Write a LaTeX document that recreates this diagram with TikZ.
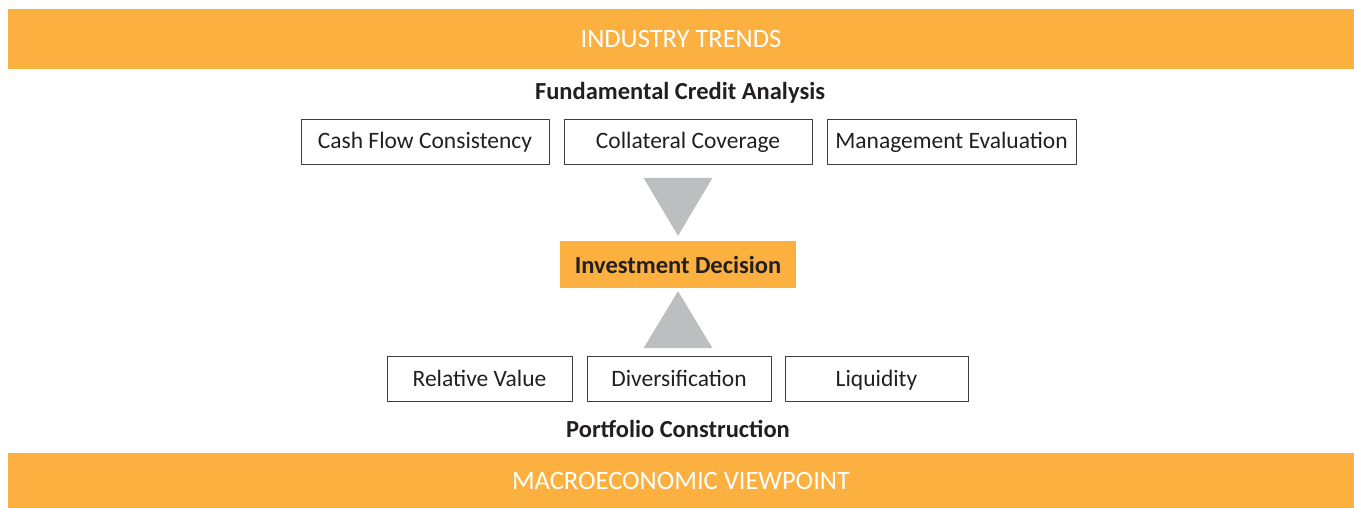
\documentclass[tikz,border=0pt]{standalone}
\usepackage{fontspec}
\setmainfont{Carlito}
\usetikzlibrary{positioning}
\definecolor{bandorange}{HTML}{FBB040}
\definecolor{tripgray}{HTML}{BCBEC0}
\definecolor{inkgray}{HTML}{231F20}
\definecolor{edgegray}{HTML}{3C3C3C}
\tikzset{
  band/.style={fill=bandorange, text=white, minimum width=1346pt, inner sep=0pt, font=\fontsize{26.5}{28}\selectfont},
  heading/.style={text=inkgray, inner sep=0pt, font=\fontsize{24.5}{28}\selectfont\bfseries},
  factor/.style={draw=edgegray, line width=1pt, text=inkgray, minimum height=45pt, inner sep=0pt,
                 text height=16pt, text depth=2pt, font=\fontsize{23.5}{26}\selectfont},
  tri/.style={fill=tripgray}
}
\begin{document}
\begin{tikzpicture}[x=1pt, y=1pt, line join=round]
  \useasboundingbox (0,0) rectangle (1354,508);
  % bands
  \node[band, minimum height=60pt] (trends) at (681,469) {INDUSTRY TRENDS};
  \node[band, minimum height=55pt] (macro) at (681,27.5) {MACROECONOMIC VIEWPOINT};
  % fundamental credit analysis
  \node[heading] (fca) at (680,415) {Fundamental Credit Analysis};
  \node[factor, minimum width=248pt] (coll) at (688,366) {Collateral Coverage};
  \node[factor, minimum width=248pt, left=14pt of coll] (cash) {Cash Flow Consistency};
  \node[factor, minimum width=249pt, right=14pt of coll] (mgmt) {Management Evaluation};
  % decision
  \node[fill=bandorange, text=inkgray, minimum width=236pt, minimum height=47pt, inner sep=0pt,
        font=\fontsize{24.5}{28}\selectfont\bfseries] (inv) at (678,243.5) {Investment Decision};
  \fill[tri] ([yshift=5pt]inv.north) -- ++(-34.5,58) -- ++(69,0) -- cycle;
  \fill[tri] ([yshift=-3pt]inv.south) -- ++(-34.5,-57) -- ++(69,0) -- cycle;
  % portfolio construction
  \node[factor, minimum width=184pt] (div) at (679,128.5) {Diversification};
  \node[factor, minimum width=185pt, left=14pt of div] (relv) {Relative Value};
  \node[factor, minimum width=183pt, right=13pt of div] (liq) {Liquidity};
  \node[heading] (pc) at (678,79) {Portfolio Construction};
\end{tikzpicture}
\end{document}
